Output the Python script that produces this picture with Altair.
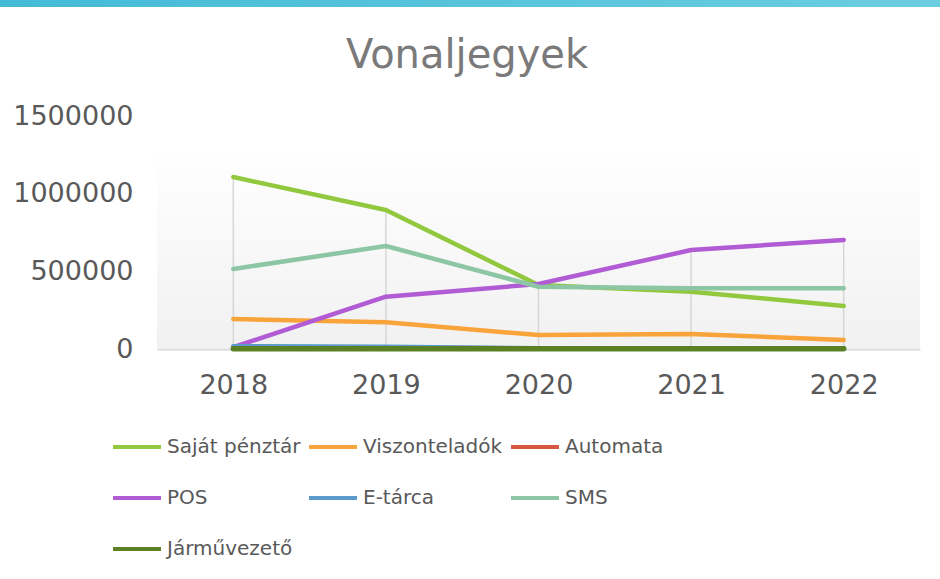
import altair as alt
import pandas as pd

years = ["2018", "2019", "2020", "2021", "2022"]
series = ["Saját pénztár", "Viszonteladók", "Automata", "POS", "E-tárca", "SMS", "Járművezető"]
colors = ["#92c83e", "#f9a43a", "#d6573f", "#b15bd5", "#5b9bcb", "#8cc6a4", "#5c8124"]
widths = [4.5, 4.5, 4.5, 4.5, 4.5, 4.5, 5.5]

sajat = [1107000, 895000, 412000, 369000, 277000]
viszont = [193000, 172000, 90000, 97000, 58000]
automata = [14000, 9000, 4000, 3000, 2000]
pos = [12000, 337000, 418000, 637000, 702000]
etarca = [18000, 14000, 5000, 5000, 5000]
sms = [515000, 663000, 401000, 391000, 391000]
jarmu = [1000, 1000, 1000, 1000, 1000]

values = [sajat, viszont, automata, pos, etarca, sms, jarmu]
rows = []
for i, (s, vals) in enumerate(zip(series, values)):
    for y, v in zip(years, vals):
        rows.append({"year": y, "series": s, "value": v, "ord": i, "w": widths[i]})
df = pd.DataFrame(rows)

FONT = "DejaVu Sans"
W, H = 763, 233

x_enc = alt.X("year:O", scale=alt.Scale(type="point", padding=0.5), sort=years,
              axis=alt.Axis(title=None, ticks=False, domainColor="#d9d9d9", domainWidth=2,
                            labelFont=FONT, labelFontSize=27, labelColor="#595959",
                            labelPadding=23, labelAngle=0, grid=False))
y_scale = alt.Scale(domain=[0, 1500000], nice=False)

bg = alt.Chart(pd.DataFrame({"a": [0]})).mark_rect(
    fill=alt.Gradient(gradient="linear",
                      stops=[alt.GradientStop(color="#ffffff", offset=0),
                             alt.GradientStop(color="#f1f1f1", offset=1)],
                      x1=0, x2=0, y1=0, y2=1)
).encode(x=alt.value(0), x2=alt.value(W), y=alt.value(31), y2=alt.value(H))

topbar = alt.Chart(pd.DataFrame({"a": [0]})).mark_rect(
    fill=alt.Gradient(gradient="linear",
                      stops=[alt.GradientStop(color="#43bbd7", offset=0),
                             alt.GradientStop(color="#6ccde0", offset=1)],
                      x1=0, x2=1, y1=0, y2=0)
).encode(x=alt.value(-157), x2=alt.value(940 - 157), y=alt.value(-116), y2=alt.value(-109))

title = alt.Chart(pd.DataFrame({"t": ["Vonaljegyek"]})).mark_text(
    font=FONT, fontSize=40, color="#7a7a7a", align="center", baseline="middle"
).encode(text="t:N", x=alt.value(310), y=alt.value(-60))

drops = alt.Chart(df).mark_rule(color="#d6d6d6", strokeWidth=1.5).encode(
    x=x_enc,
    y=alt.Y("max(value):Q", scale=y_scale),
    y2=alt.datum(0),
)

lines = alt.Chart(df).mark_line(strokeCap="round", strokeJoin="round").encode(
    x=x_enc,
    y=alt.Y("value:Q", scale=y_scale,
            axis=alt.Axis(title=None, values=[0, 500000, 1000000, 1500000], format="d",
                          ticks=False, domain=False, grid=False, labelFont=FONT,
                          labelFontSize=27, labelColor="#595959", labelPadding=24)),
    color=alt.Color("series:N", scale=alt.Scale(domain=series, range=colors),
                    legend=alt.Legend(title=None, orient="none", legendX=-46, legendY=305,
                                      direction="horizontal",
                                      columns=3, symbolType="stroke", symbolSize=2300,
                                      symbolStrokeWidth=4, labelFont=FONT, labelFontSize=20,
                                      labelColor="#595959", labelOffset=4, rowPadding=15,
                                      columnPadding=0, labelLimit=300)),
    strokeWidth=alt.StrokeWidth("w:Q", scale=None, legend=None),
    order=alt.Order("ord:Q"),
    detail="series:N",
)

chart = alt.layer(topbar, title, bg, drops, lines).properties(
    width=W, height=H,
    background="#ffffff",
    autosize=alt.AutoSizeParams(type="none"),
    padding={"left": 157, "top": 116, "right": 20, "bottom": 230},
).configure_view(strokeWidth=0, stroke="transparent")

chart.save("out.html", embed_options={"renderer": "svg", "actions": False})
